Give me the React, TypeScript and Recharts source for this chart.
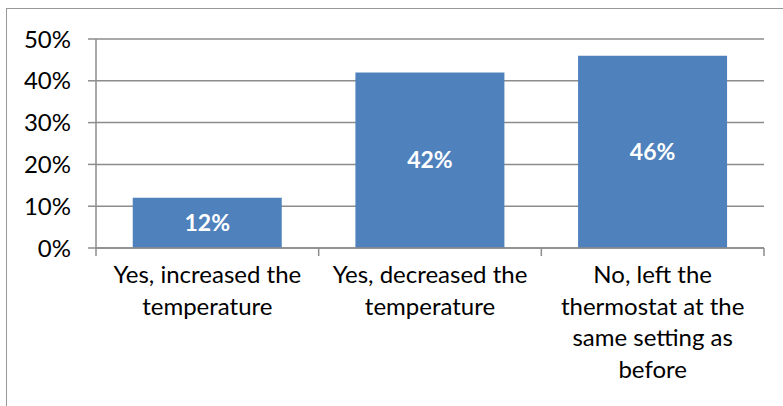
import { Bar, BarChart, CartesianGrid, LabelList, XAxis, YAxis } from "recharts";

const categories = [
  "Yes, increased the temperature",
  "Yes, decreased the temperature",
  "No, left the thermostat at the same setting as before"
];
// the wrapped tick label of each category, line by line
const categoryLines = [
  ["Yes, increased the", "temperature"],
  ["Yes, decreased the", "temperature"],
  ["No, left the", "thermostat at the", "same setting as", "before"]
];
const shares = [12, 42, 46];
const yTicks = [0, 10, 20, 30, 40, 50];

const data = categories.map((name, i) => ({ name, value: shares[i] }));

const FONT = "Lato, 'Noto Sans', sans-serif";
const AXIS_GRAY = "#8c8c8c";

function CategoryTick(props: any) {
  const { x, y, payload, index, visibleTicksCount } = props;
  const half = payload.offset ?? 0;
  const lines = categoryLines[categories.indexOf(payload.value)] ?? [payload.value];
  const isLast = index === visibleTicksCount - 1;
  return (
    <g>
      <line x1={x - half} x2={x - half} y1={y} y2={y + 8} stroke={AXIS_GRAY} strokeWidth={1.5} />
      {isLast ? (
        <line x1={x + half} x2={x + half} y1={y} y2={y + 8} stroke={AXIS_GRAY} strokeWidth={1.5} />
      ) : null}
      <text x={x} y={y + 35} textAnchor="middle" fill="#000" style={{ fontFamily: FONT, fontSize: 24 }}>
        {lines.map((line, i) => (
          <tspan key={i} x={x} dy={i === 0 ? 0 : 31.6}>
            {line}
          </tspan>
        ))}
      </text>
    </g>
  );
}

export default function App() {
  return (
    <div
      style={{
        position: "fixed",
        left: 0,
        top: 0,
        width: 783,
        height: 406,
        background: "#fff",
        overflow: "hidden"
      }}
    >
      <div
        style={{
          position: "absolute",
          left: 6,
          top: 8,
          width: 900,
          height: 500,
          borderTop: "1.5px solid #999",
          borderLeft: "1.5px solid #999"
        }}
      />
      <div style={{ position: "absolute", left: 0, top: 0 }}>
        <BarChart
          width={783}
          height={406}
          data={data}
          margin={{ top: 39, right: 19, left: 0, bottom: 0 }}
          barCategoryGap="16.5%"
        >
          <CartesianGrid vertical={false} stroke={AXIS_GRAY} strokeWidth={1.5} />
          <XAxis
            dataKey="name"
            height={158}
            tickLine={false}
            tickSize={0}
            tickMargin={0}
            interval={0}
            axisLine={{ stroke: AXIS_GRAY, strokeWidth: 1.5 }}
            tick={<CategoryTick />}
          />
          <YAxis
            width={96}
            domain={[0, 50]}
            ticks={yTicks}
            interval={0}
            tickSize={8}
            tickMargin={17}
            tickFormatter={(v: number) => `${v}%`}
            tick={{ fill: "#000", fontSize: 24, fontFamily: FONT }}
            axisLine={{ stroke: AXIS_GRAY, strokeWidth: 1.5 }}
            tickLine={{ stroke: AXIS_GRAY, strokeWidth: 1.5 }}
          />
          <Bar dataKey="value" fill="#4f81bd" isAnimationActive={false}>
            <LabelList
              dataKey="value"
              position="center"
              formatter={(v: any) => `${v}%`}
              fill="#fff"
              style={{ fontFamily: FONT, fontSize: 23, fontWeight: 700 }}
            />
          </Bar>
        </BarChart>
      </div>
    </div>
  );
}
